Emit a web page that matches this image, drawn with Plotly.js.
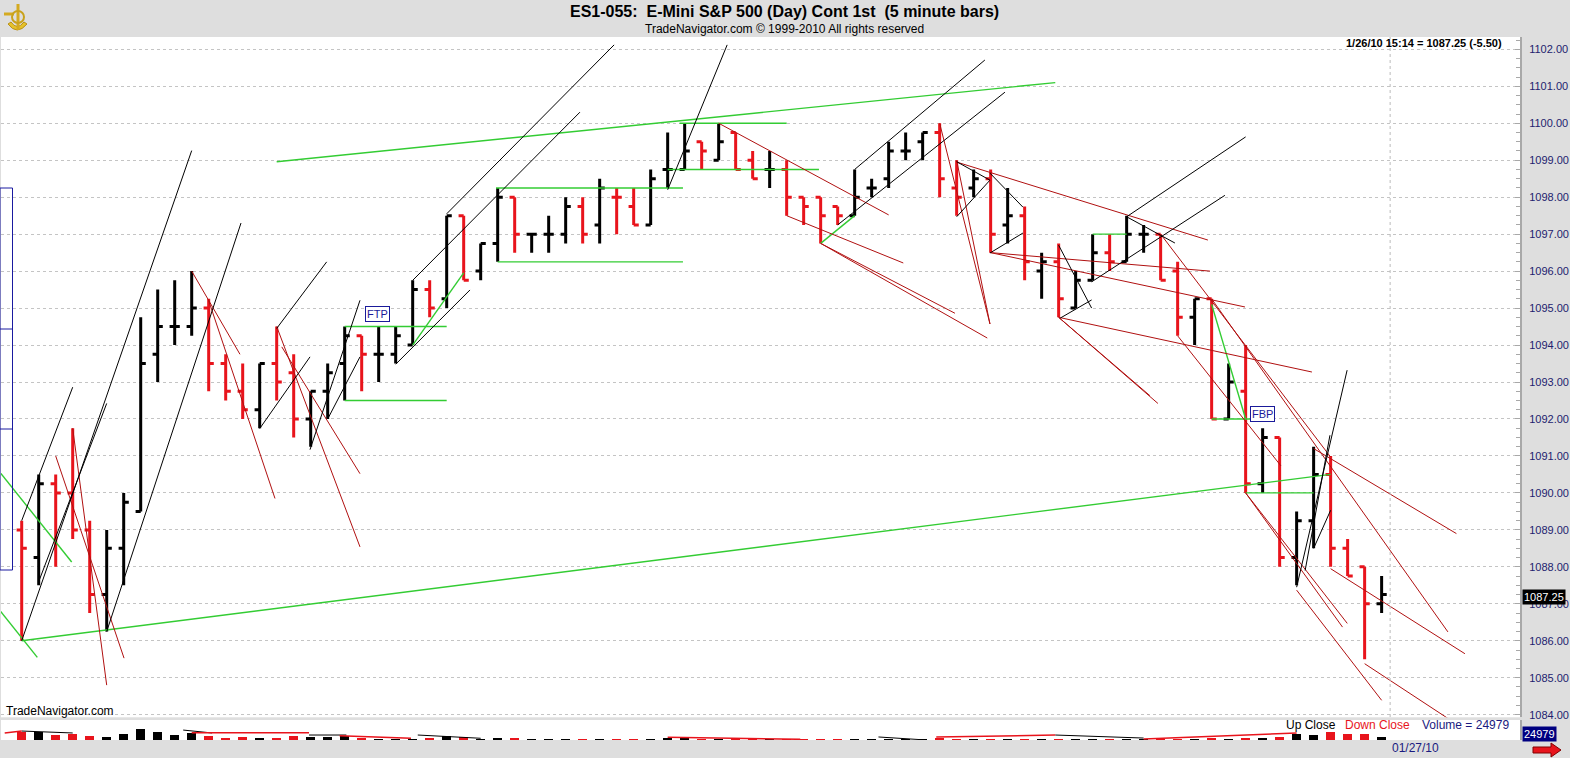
<!DOCTYPE html>
<html><head><meta charset="utf-8">
<script src="https://cdn.plot.ly/plotly-3.0.1.min.js"></script>
<style>html,body{margin:0;padding:0;background:#dedede;overflow:hidden}#chart{width:1570px;height:758px}</style>
</head><body><div id="chart"></div>
<script>
// ---------------- DATA ----------------
const times = ['08:30','08:35','08:40','08:45','08:50','08:55','09:00','09:05','09:10','09:15','09:20','09:25','09:30','09:35','09:40','09:45','09:50','09:55','10:00','10:05','10:10','10:15','10:20','10:25','10:30','10:35','10:40','10:45','10:50','10:55','11:00','11:05','11:10','11:15','11:20','11:25','11:30','11:35','11:40','11:45','11:50','11:55','12:00','12:05','12:10','12:15','12:20','12:25','12:30','12:35','12:40','12:45','12:50','12:55','13:00','13:05','13:10','13:15','13:20','13:25','13:30','13:35','13:40','13:45','13:50','13:55','14:00','14:05','14:10','14:15','14:20','14:25','14:30','14:35','14:40','14:45','14:50','14:55','15:00','15:05','15:10'];
const opens  = [1089.00,1088.25,1090.25,1090.00,1089.00,1087.25,1088.50,1089.50,1093.75,1094.50,1094.50,1095.00,1093.50,1092.75,1092.25,1093.50,1093.25,1092.00,1092.75,1093.50,1094.25,1093.75,1093.75,1094.00,1095.50,1095.25,1097.50,1096.00,1096.75,1098.00,1097.00,1097.00,1097.00,1097.75,1097.25,1098.00,1097.75,1097.25,1098.75,1098.75,1099.50,1099.00,1099.75,1099.00,1098.75,1098.75,1098.00,1098.00,1097.75,1097.50,1098.25,1098.50,1099.25,1099.50,1099.75,1098.25,1098.25,1098.50,1097.25,1097.50,1096.00,1096.25,1095.00,1095.75,1096.50,1096.25,1097.00,1097.00,1096.00,1094.75,1095.25,1092.00,1092.75,1090.25,1091.50,1088.25,1089.25,1090.50,1088.50,1088.00,1087.00];
const highs  = [1089.25,1090.50,1090.50,1091.75,1089.25,1089.00,1090.00,1094.75,1095.50,1095.75,1096.00,1095.25,1093.75,1093.50,1093.50,1094.50,1093.75,1092.75,1093.50,1094.50,1094.25,1094.50,1094.50,1095.75,1095.75,1097.50,1097.50,1096.75,1098.25,1098.00,1097.00,1097.50,1098.00,1098.00,1098.50,1098.25,1098.25,1098.75,1099.75,1100.00,1099.50,1100.00,1099.75,1099.25,1099.25,1099.00,1098.00,1098.00,1097.75,1098.75,1098.50,1099.50,1099.75,1099.75,1100.00,1099.00,1098.75,1098.75,1098.25,1097.75,1096.50,1096.75,1096.00,1097.00,1097.00,1097.50,1097.25,1097.00,1096.25,1095.25,1095.25,1093.50,1094.00,1091.75,1091.50,1089.50,1091.25,1091.00,1088.75,1088.00,1087.75];
const lows   = [1086.00,1087.50,1088.00,1088.75,1086.75,1086.25,1087.50,1089.50,1093.00,1094.00,1094.25,1092.75,1092.50,1092.00,1091.75,1092.50,1091.50,1091.25,1092.00,1092.50,1092.75,1093.00,1093.50,1094.00,1094.75,1095.00,1095.75,1095.75,1096.25,1096.50,1096.50,1096.50,1096.75,1096.75,1096.75,1097.00,1097.25,1097.25,1098.25,1098.75,1098.75,1099.00,1098.75,1098.50,1098.25,1097.50,1097.25,1096.75,1097.25,1097.50,1098.00,1098.25,1099.00,1099.00,1098.00,1097.50,1098.00,1096.50,1096.75,1095.75,1095.25,1094.75,1095.00,1095.75,1096.00,1096.25,1096.50,1095.75,1094.25,1094.00,1092.00,1092.00,1090.00,1090.00,1088.00,1087.50,1088.50,1088.00,1087.75,1085.50,1086.75];
const closes = [1088.50,1090.25,1090.00,1089.00,1087.25,1088.50,1089.75,1093.50,1094.50,1094.50,1095.00,1093.50,1092.75,1092.25,1093.50,1093.00,1092.00,1092.75,1093.25,1094.25,1093.75,1093.75,1094.25,1095.50,1095.00,1097.50,1095.75,1096.75,1098.00,1097.00,1097.00,1097.00,1097.75,1097.00,1098.25,1098.00,1097.25,1098.50,1098.75,1099.25,1099.25,1099.50,1098.75,1098.50,1098.75,1098.00,1097.75,1097.50,1097.50,1098.00,1098.25,1099.25,1099.25,1099.75,1098.50,1098.00,1098.50,1097.00,1097.50,1096.25,1096.25,1095.25,1095.75,1096.50,1096.25,1097.00,1097.00,1095.75,1094.75,1095.25,1092.00,1093.00,1090.25,1091.50,1088.25,1089.25,1090.50,1088.50,1087.75,1087.00,1087.25];
const volumes = [77000,77000,46000,55000,37000,31000,55000,101000,74000,46000,62000,37000,21000,25000,16000,16000,37000,31000,25000,37000,16000,9000,12000,9000,16000,40000,25000,9000,16000,16000,5000,5000,9000,7000,7000,5000,7000,12000,16000,16000,9000,12000,9000,7000,7000,12000,9000,12000,7000,12000,7000,9000,7000,7000,16000,12000,7000,12000,7000,12000,7000,9000,7000,9000,7000,9000,7000,9000,12000,9000,18000,12000,21000,16000,25000,55000,46000,71000,55000,55000,24979];
const prevDayClose = 1092.75;
const priceTicks = [1084,1085,1086,1087,1088,1089,1090,1091,1092,1093,1094,1095,1096,1097,1098,1099,1100,1101,1102];

// trend lines: [barIndex0, price0, barIndex1, price1]
const blackLines = [
  [0,1086.00,10,1099.26],[0,1089.25,3,1092.86],[1,1087.60,5,1092.42],[5,1086.25,12.9,1097.30],
  [14,1091.74,16.96,1093.68],[15,1094.45,17.94,1096.25],[16.96,1091.17,19.9,1095.21],[18,1092.00,19.9,1093.68],
  [22,1093.48,26.37,1095.49],[23,1095.75,32.84,1100.30],[25,1097.55,34.85,1102.12],[38,1098.20,41.5,1102.12],
  [49,1098.75,56.66,1101.71],[48,1097.25,57.84,1100.84],
  [55,1097.47,56.96,1098.46],[55,1098.96,56.96,1098.46],[56.96,1096.49,58.9,1097.03],[56.96,1098.65,58.9,1097.73],
  [61,1096.70,62.94,1095.00],[61.1,1094.73,62.94,1095.22],[62.94,1095.71,70.78,1098.05],[65,1097.47,72,1099.63],
  [65,1097.47,67.84,1096.76],[75,1087.45,77.97,1093.32],[75.5,1087.90,76.96,1091.56],[76,1088.50,77,1089.53]
];
const redLines = [
  [3,1091.75,5,1084.80],[2,1091.00,6.02,1085.53],[10,1096.00,12.84,1093.75],[11,1095.20,14.9,1089.85],
  [15,1094.50,19.9,1088.54],[15.3,1093.95,19.9,1090.52],[41,1100.00,51.0,1097.52],[45,1097.50,51.86,1096.22],
  [47,1096.75,54.9,1094.86],[47,1096.75,56.8,1094.19],[54,1100.00,56.96,1094.57],[55,1099.00,56.96,1094.57],
  [55,1098.95,69.78,1096.84],[57,1096.50,71.96,1095.03],[57,1096.50,69.9,1096.00],[61,1094.75,75.9,1093.27],
  [61,1094.75,66.84,1092.42],[61,1094.75,66.37,1092.63],[67,1097.00,77,1090.97],[68,1094.25,74.08,1090.73],
  [70,1095.25,83.9,1086.24],[72,1090.00,77.98,1086.47],[72,1090.00,77.7,1086.37],[76,1091.20,84.4,1088.90],
  [77,1087.95,84.9,1085.65],[79,1085.38,83.9,1083.90],[75,1087.37,80.0,1084.39]
];
const greenLines = [
  [0,1086.00,77,1090.50],[15.0,1098.96,60.8,1101.10],[38.7,1100.00,45.0,1100.00],[38,1098.75,46.9,1098.75],
  [27.9,1098.25,38.9,1098.25],[28,1096.25,38.9,1096.25],[19,1094.50,25,1094.50],[19,1092.50,25,1092.50],
  [23,1094.00,26,1095.95],[-1.3,1090.57,2.94,1088.13],[-1.3,1086.83,0.92,1085.55],[47,1096.75,49,1097.50],
  [63,1097.00,65,1097.00],[70,1095.10,72,1092.00],[70,1092.00,73,1092.00],[72,1090.00,76,1090.00]
];
// volume-pane trend arrows: [barIndex0, volume0, barIndex1, volume1]
const volBlackLines = [[0,83000,3,65000],[9.5,92000,11.2,65000],[16.9,46000,19.1,46000],[23.3,46000,27,16000],[50.4,28000,53,2000],[60.8,46000,66,18000]];
const volRedLines = [[-1,65000,0,83000],[10,67000,16.9,67000],[18.7,40000,22.9,16000],[38,25000,45.8,6500],[53.8,28000,60.8,46000],[66,9000,75,65000]];

// ---------------- LAYOUT HELPERS ----------------
const W=1570,H=758,ML=1,MR=50,MT=37,MB=18;
const PW=W-ML-MR, PH=H-MT-MB;
const px=x=>(x-ML)/PW, py=y=>(H-MB-y)/PH;

const xIdx = times.map((t,i)=>i);
const isUp = closes.map((c,i)=>{const p=i?closes[i-1]:prevDayClose;return c>p||(c===p&&c>=opens[i]);});
const RED='#e8141c', BLK='#000000';

function ohlcTrace(flag,color){
  const sel=xIdx.filter(i=>isUp[i]===flag);
  return {type:'ohlc',x:sel,open:sel.map(i=>opens[i]),high:sel.map(i=>highs[i]),low:sel.map(i=>lows[i]),close:sel.map(i=>closes[i]),
    increasing:{line:{color:color,width:3}},decreasing:{line:{color:color,width:3}},tickwidth:0.3,hoverinfo:'skip',xaxis:'x',yaxis:'y'};
}
function lineTrace(arr,color,width,yax){
  const x=[],y=[];
  arr.forEach(l=>{x.push(l[0],l[2],null);y.push(l[1],l[3],null);});
  return {type:'scatter',mode:'lines',x:x,y:y,line:{color:color,width:width},hoverinfo:'skip',xaxis:'x',yaxis:yax||'y',connectgaps:false};
}

const traces=[
  lineTrace(greenLines,'#33cc33',1.4),
  lineTrace(redLines,'#b01010',1),
  lineTrace(blackLines,'#000000',1),
  ohlcTrace(true,BLK), ohlcTrace(false,RED),
  {type:'bar',x:xIdx,y:volumes,marker:{color:isUp.map(u=>u?BLK:RED),line:{width:0}},width:0.55,xaxis:'x',yaxis:'y2',hoverinfo:'skip'},
  lineTrace(volBlackLines,'#000000',1,'y2'),
  lineTrace(volRedLines,RED,1.5,'y2')
];

const F='Liberation Sans, Arial';
const annotations=[
  {text:'<b>ES1-055:\u00a0\u00a0E-Mini S&P 500 (Day) Cont 1st\u00a0\u00a0(5 minute bars)</b>',x:px(784),y:py(12),font:{size:16,color:'#000',family:F}},
  {text:'TradeNavigator.com © 1999-2010 All rights reserved',x:px(784),y:py(29),font:{size:12,color:'#000',family:F}},
  {text:'<b>1/26/10 15:14 = 1087.25 (-5.50)</b>',x:px(1504),y:py(43),xanchor:'right',font:{size:11,color:'#000',family:F}},
  {text:'TradeNavigator.com',x:px(4),y:py(711),xanchor:'left',font:{size:12,color:'#000',family:F}},
  {text:'Up Close',x:px(1284),y:py(725),xanchor:'left',font:{size:12,color:'#000',family:F}},
  {text:'Down Close',x:px(1343),y:py(725),xanchor:'left',font:{size:12,color:RED,family:F}},
  {text:'Volume = 24979',x:px(1420),y:py(725),xanchor:'left',font:{size:12,color:'#1a1a80',family:F}},
  {text:'01/27/10',x:px(1390),y:py(748),xanchor:'left',font:{size:12,color:'#1a1a80',family:F}},
  {text:'1087.25',x:px(1522),y:py(597),xanchor:'left',bgcolor:'#000',borderpad:1,font:{size:11,color:'#fff',family:F}},
  {text:'24979',x:px(1522),y:py(734),xanchor:'left',bgcolor:'#000080',borderpad:1,font:{size:11,color:'#fff',family:F}},
  {text:'FTP',x:px(377.5),y:py(314),bgcolor:'#fff',bordercolor:'#1a1a9a',borderwidth:1,borderpad:1,font:{size:11,color:'#1a1a9a',family:F}},
  {text:'FBP',x:px(1262.4),y:py(413.7),bgcolor:'#fff',bordercolor:'#1a1a9a',borderwidth:1,borderpad:1,font:{size:11,color:'#1a1a9a',family:F}}
].map(a=>Object.assign({xref:'paper',yref:'paper',showarrow:false,yanchor:'middle',xanchor:'center'},a));

const rp=(x0,y0,x1,y1)=>({x0:px(x0),x1:px(x1),y0:py(y0),y1:py(y1)});
const shapes=[
  Object.assign({type:'rect',xref:'paper',yref:'paper',line:{color:'#1a1aa0',width:1},fillcolor:'rgba(0,0,0,0)'},rp(0,188,12.5,570)),
  Object.assign({type:'line',xref:'paper',yref:'paper',line:{color:'#1a1aa0',width:1}},rp(0,329,12.5,329)),
  Object.assign({type:'line',xref:'paper',yref:'paper',line:{color:'#1a1aa0',width:1}},rp(0,429,12.5,429)),
  {type:'line',xref:'x',yref:'paper',x0:80.5,x1:80.5,y0:py(717),y1:1,line:{color:'#bbbbbb',width:1,dash:'3px,3px'}},
  {type:'path',xref:'paper',yref:'paper',fillcolor:RED,line:{color:'#800000',width:1},
   path:`M ${px(1533)} ${py(747)} L ${px(1551)} ${py(747)} L ${px(1551)} ${py(743)} L ${px(1561)} ${py(750)} L ${px(1551)} ${py(757)} L ${px(1551)} ${py(753)} L ${px(1533)} ${py(753)} Z`},
  {type:'path',xref:'paper',yref:'paper',fillcolor:'#e6c229',line:{color:'#b8901a',width:1},
   path:`M ${px(8)} ${py(24)} Q ${px(17)} ${py(36)} ${px(27)} ${py(24)} L ${px(24)} ${py(22)} Q ${px(17)} ${py(31)} ${px(11)} ${py(22)} Z`},
  {type:'line',xref:'paper',yref:'paper',line:{color:'#d4aa20',width:3},x0:px(18),x1:px(18),y0:py(4),y1:py(30)},
  {type:'line',xref:'paper',yref:'paper',line:{color:'#d4aa20',width:3},x0:px(4),x1:px(14),y0:py(14),y1:py(14)},
  {type:'circle',xref:'paper',yref:'paper',line:{color:'#c9a21c',width:2},fillcolor:'rgba(0,0,0,0)',x0:px(12),x1:px(24),y0:py(11),y1:py(23)}
];

const layout={
  width:W,height:H,margin:{l:ML,r:MR,t:MT,b:MB},
  paper_bgcolor:'#dedede',plot_bgcolor:'#ffffff',showlegend:false,dragmode:false,
  font:{family:F,size:12},
  xaxis:{range:[-1.218,88.14],showgrid:false,zeroline:false,showticklabels:false,ticks:'',showline:false,anchor:'y',rangeslider:{visible:false}},
  yaxis:{domain:[(H-MB-717.3)/PH,1],range:[1083.93,1102.333],side:'right',tickvals:priceTicks,ticktext:priceTicks.map(v=>v.toFixed(2)),
    tickfont:{size:11,color:'#22226e',family:F},showgrid:true,gridcolor:'#c4c4c4',griddash:'3px,3px',gridwidth:1,
    zeroline:false,showline:true,linecolor:'#a8a8a8',linewidth:2,ticks:'inside',ticklen:5,tickcolor:'#a8a8a8',ticklabelstandoff:5,
    minor:{dtick:0.25,tick0:0,ticks:'inside',ticklen:4,tickcolor:'#a8a8a8',showgrid:false},anchor:'x'},
  yaxis2:{domain:[0,(H-MB-720)/PH],range:[0,185000],side:'right',showgrid:false,zeroline:false,showticklabels:false,ticks:'',showline:true,linecolor:'#a8a8a8',linewidth:2,anchor:'x'},
  annotations:annotations,shapes:shapes,bargap:0
};
Plotly.newPlot('chart',traces,layout,{staticPlot:true,displayModeBar:false});
</script></body></html>
